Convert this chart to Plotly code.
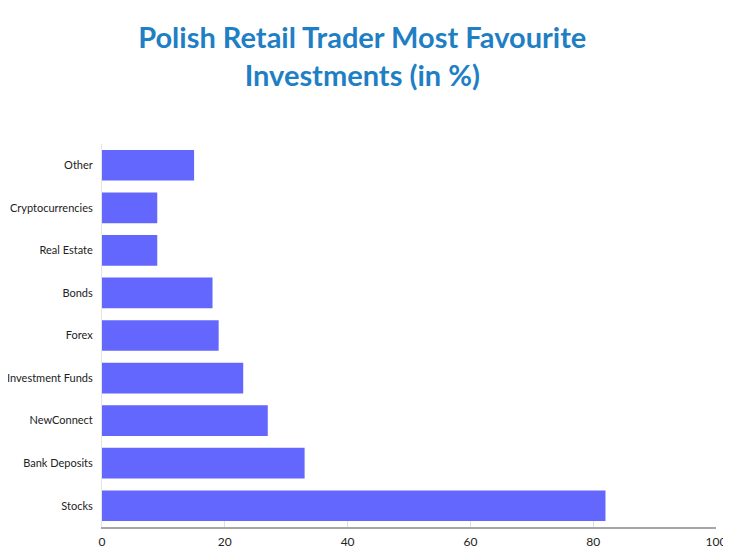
import plotly.graph_objects as go

# Categories listed bottom to top, as they appear on the y axis
categories = ['Stocks', 'Bank Deposits', 'NewConnect', 'Investment Funds', 'Forex',
              'Bonds', 'Real Estate', 'Cryptocurrencies', 'Other']
shares = [82, 33, 27, 23, 19, 18, 9, 9, 15]
x_ticks = [0, 20, 40, 60, 80, 100]

fig = go.Figure(data=[go.Bar(
    x=shares,
    y=categories,
    orientation='h',
    marker=dict(color='#6467fd', line=dict(width=0)),
)])

# page body has an 8px margin, so the figure is sized to fit the window
fig.update_layout(
    width=723,
    height=544,
    paper_bgcolor='white',
    plot_bgcolor='white',
    bargap=0.28,
    showlegend=False,
    margin=dict(l=94, r=15, t=136, b=25),
    title=dict(
        text='Polish Retail Trader Most Favourite<br>Investments (in %)',
        x=0.49,
        xanchor='center',
        y=0.9265,
        yanchor='middle',
        font=dict(family='Lato', size=29, color='#1f7fc4', weight='bold'),
    ),
    font=dict(family='Lato', color='#222222'),
)

fig.update_xaxes(
    range=[0, 100],
    tickvals=x_ticks,
    automargin=False,
    showgrid=False,
    zeroline=False,
    showline=True,
    linecolor='#a6a6a6',
    linewidth=1.5,
    ticks='inside',
    ticklen=6,
    tickcolor='#e0e0e0',
    ticklabelstandoff=3,
    tickfont=dict(size=12, color='#222222'),
)

fig.update_yaxes(
    automargin=False,
    showgrid=False,
    zeroline=False,
    showline=True,
    linecolor='#e4e4e4',
    linewidth=1,
    ticks='',
    ticklabelstandoff=6,
    tickfont=dict(size=11, color='#222222'),
)

fig.write_html("out.html")
